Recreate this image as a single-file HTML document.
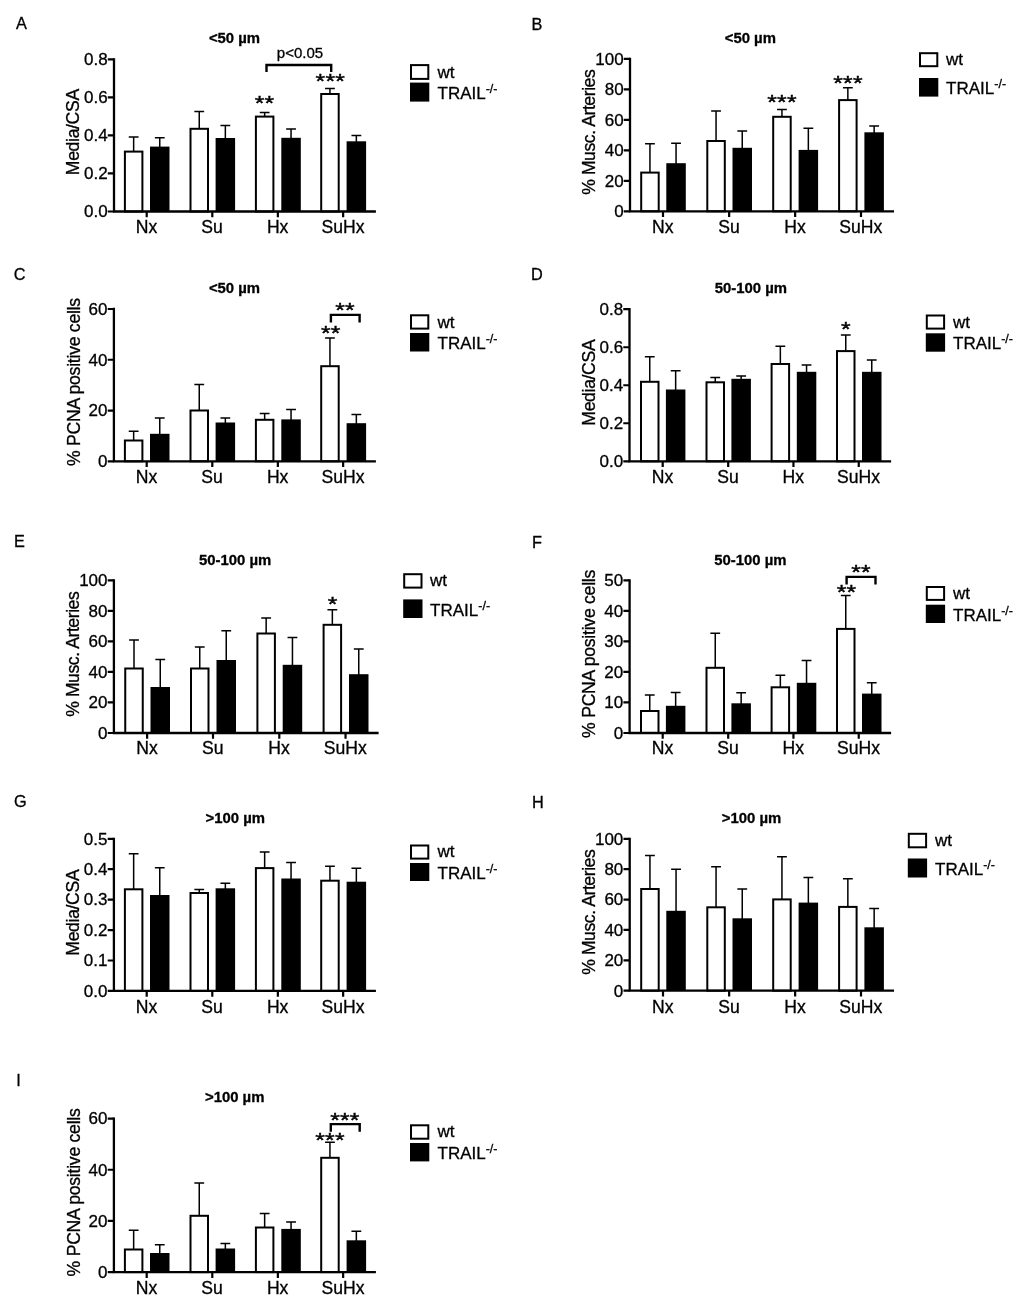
<!DOCTYPE html>
<html lang="en">
<head>
<meta charset="utf-8">
<title>Figure: pulmonary vascular remodelling in wt and TRAIL-/- mice</title>
<style>
html,body{margin:0;padding:0;background:#fff}
svg{display:block}
text{font-family:"Liberation Sans",sans-serif;fill:#000;stroke:#000;stroke-width:.3px}
.pl{font-size:16.3px}
.tt{font-size:14.9px;font-weight:bold;text-anchor:middle}
.yt{font-size:17px;text-anchor:end}
.xt{font-size:17.6px;text-anchor:middle}
.yl{font-size:17.6px;text-anchor:middle}
.lg{font-size:17px}
.sup{font-size:12.5px}
.st{font-size:24.7px;text-anchor:middle;letter-spacing:.2px;stroke-width:.5px}
.pv{text-anchor:middle}
.ax{fill:none;stroke:#000;stroke-width:2.3;stroke-linejoin:miter}
.tk{fill:none;stroke:#000;stroke-width:2.2}
.eb{fill:none;stroke:#000;stroke-width:1.5}
.wb{fill:#fff;stroke:#000;stroke-width:2.0}
.kb{fill:#000;stroke:none}
.br{fill:none;stroke:#000;stroke-width:2.4}
</style>
</head>
<body>
<svg width="1024" height="1301" viewBox="0 0 1024 1301">
<rect x="0" y="0" width="1024" height="1301" fill="#fff"/>
<g>
<text class="pl" x="16.1" y="29.3">A</text>
<text class="tt" x="234.5" y="43">&lt;50 µm</text>
<path class="eb" d="M133.65 151.6V137M128.75 137H138.55"/>
<rect class="wb" x="124.9" y="151.6" width="17.5" height="59.9"/>
<path class="eb" d="M159.75 147.6V137.7M154.85 137.7H164.65"/>
<rect class="kb" x="150" y="146.6" width="19.5" height="64.9"/>
<path class="eb" d="M199.25 128.8V111.4M194.35 111.4H204.15"/>
<rect class="wb" x="190.5" y="128.8" width="17.5" height="82.7"/>
<path class="eb" d="M225.35 139V125.5M220.45 125.5H230.25"/>
<rect class="kb" x="215.6" y="138" width="19.5" height="73.5"/>
<path class="eb" d="M264.65 116.6V112.6M259.75 112.6H269.55"/>
<rect class="wb" x="255.9" y="116.6" width="17.5" height="94.9"/>
<path class="eb" d="M291.05 138.8V129M286.15 129H295.95"/>
<rect class="kb" x="281.3" y="137.8" width="19.5" height="73.7"/>
<path class="eb" d="M329.95 94V88.6M325.05 88.6H334.85"/>
<rect class="wb" x="321.2" y="94" width="17.5" height="117.5"/>
<path class="eb" d="M356.35 142.3V135.5M351.45 135.5H361.25"/>
<rect class="kb" x="346.6" y="141.3" width="19.5" height="70.2"/>
<path class="ax" d="M114 58.25V211.5H375.9"/>
<text class="yt" x="107.6" y="217.35">0.0</text>
<text class="yt" x="107.6" y="179.32">0.2</text>
<text class="yt" x="107.6" y="141.3">0.4</text>
<text class="yt" x="107.6" y="103.28">0.6</text>
<text class="yt" x="107.6" y="65.25">0.8</text>
<text class="xt" x="146.5" y="232.9">Nx</text>
<text class="xt" x="212.1" y="232.9">Su</text>
<text class="xt" x="277.65" y="232.9">Hx</text>
<text class="xt" x="342.95" y="232.9">SuHx</text>
<path class="tk" d="M107.8 211.5H114M107.8 173.47H114M107.8 135.45H114M107.8 97.43H114M107.8 59.4H114M146.7 211.5V217.3M212.3 211.5V217.3M277.85 211.5V217.3M343.15 211.5V217.3"/>
<text class="yl" transform="translate(79.1 132) rotate(-90)" textLength="86.3" lengthAdjust="spacing">Media/CSA</text>
<rect class="wb" x="411" y="65.1" width="17.3" height="13.8"/>
<rect class="kb" x="410" y="82.6" width="19.3" height="19"/>
<text class="lg" x="437.5" y="77.9">wt</text>
<text class="lg" x="437.5" y="98.6">TRAIL<tspan class="sup" dy="-5.9">-/-</tspan></text>
<text class="st" transform="translate(264.6 110.2) scale(1 .85)">**</text>
<text class="st" transform="translate(330.3 88.4) scale(1 .85)">***</text>
<path class="br" d="M266.5 72V65H331.2V72"/>
<text class="pv" x="300" y="58" style="font-size:15px">p&lt;0.05</text>
</g>
<g>
<text class="pl" x="531.5" y="29.5">B</text>
<text class="tt" x="750.3" y="43">&lt;50 µm</text>
<path class="eb" d="M649.95 172.6V143.7M645.05 143.7H654.85"/>
<rect class="wb" x="641.2" y="172.6" width="17.5" height="38.7"/>
<path class="eb" d="M676.05 164.2V143.3M671.15 143.3H680.95"/>
<rect class="kb" x="666.3" y="163.2" width="19.5" height="48.1"/>
<path class="eb" d="M716.05 141V111M711.15 111H720.95"/>
<rect class="wb" x="707.3" y="141" width="17.5" height="70.3"/>
<path class="eb" d="M742.25 148.8V131M737.35 131H747.15"/>
<rect class="kb" x="732.5" y="147.8" width="19.5" height="63.5"/>
<path class="eb" d="M781.95 116.8V109.4M777.05 109.4H786.85"/>
<rect class="wb" x="773.2" y="116.8" width="17.5" height="94.5"/>
<path class="eb" d="M808.35 150.9V128.2M803.45 128.2H813.25"/>
<rect class="kb" x="798.6" y="149.9" width="19.5" height="61.4"/>
<path class="eb" d="M847.85 100.1V87.7M842.95 87.7H852.75"/>
<rect class="wb" x="839.1" y="100.1" width="17.5" height="111.2"/>
<path class="eb" d="M874.15 133.3V125.9M869.25 125.9H879.05"/>
<rect class="kb" x="864.4" y="132.3" width="19.5" height="79"/>
<path class="ax" d="M630 57.75V211.3H894"/>
<text class="yt" x="623.6" y="217.15">0</text>
<text class="yt" x="623.6" y="186.67">20</text>
<text class="yt" x="623.6" y="156.19">40</text>
<text class="yt" x="623.6" y="125.71">60</text>
<text class="yt" x="623.6" y="95.23">80</text>
<text class="yt" x="623.6" y="64.75">100</text>
<text class="xt" x="662.8" y="232.9">Nx</text>
<text class="xt" x="728.95" y="232.9">Su</text>
<text class="xt" x="794.95" y="232.9">Hx</text>
<text class="xt" x="860.8" y="232.9">SuHx</text>
<path class="tk" d="M623.8 211.3H630M623.8 180.82H630M623.8 150.34H630M623.8 119.86H630M623.8 89.38H630M623.8 58.9H630M663 211.3V217.1M729.15 211.3V217.1M795.15 211.3V217.1M861 211.3V217.1"/>
<text class="yl" transform="translate(595.3 132) rotate(-90)" textLength="125.6" lengthAdjust="spacing">% Musc. Arteries</text>
<rect class="wb" x="920" y="53.2" width="17.3" height="13"/>
<rect class="kb" x="919" y="78" width="19.3" height="18.6"/>
<text class="lg" x="946.1" y="64.8">wt</text>
<text class="lg" x="946.1" y="93.9">TRAIL<tspan class="sup" dy="-5.9">-/-</tspan></text>
<text class="st" transform="translate(782 109.4) scale(1 .85)">***</text>
<text class="st" transform="translate(848 89.5) scale(1 .85)">***</text>
</g>
<g>
<text class="pl" x="13.8" y="279.8">C</text>
<text class="tt" x="234.5" y="293">&lt;50 µm</text>
<path class="eb" d="M133.65 440.5V431.3M128.75 431.3H138.55"/>
<rect class="wb" x="124.9" y="440.5" width="17.5" height="20.8"/>
<path class="eb" d="M159.75 434.8V418M154.85 418H164.65"/>
<rect class="kb" x="150" y="433.8" width="19.5" height="27.5"/>
<path class="eb" d="M199.25 410.5V384.5M194.35 384.5H204.15"/>
<rect class="wb" x="190.5" y="410.5" width="17.5" height="50.8"/>
<path class="eb" d="M225.35 423.5V418M220.45 418H230.25"/>
<rect class="kb" x="215.6" y="422.5" width="19.5" height="38.8"/>
<path class="eb" d="M264.65 419.8V413.6M259.75 413.6H269.55"/>
<rect class="wb" x="255.9" y="419.8" width="17.5" height="41.5"/>
<path class="eb" d="M291.05 420.4V409.5M286.15 409.5H295.95"/>
<rect class="kb" x="281.3" y="419.4" width="19.5" height="41.9"/>
<path class="eb" d="M329.95 366.2V338M325.05 338H334.85"/>
<rect class="wb" x="321.2" y="366.2" width="17.5" height="95.1"/>
<path class="eb" d="M356.35 424.2V414.4M351.45 414.4H361.25"/>
<rect class="kb" x="346.6" y="423.2" width="19.5" height="38.1"/>
<path class="ax" d="M113.9 307.85V461.3H375.9"/>
<text class="yt" x="107.5" y="467.15">0</text>
<text class="yt" x="107.5" y="416.38">20</text>
<text class="yt" x="107.5" y="365.62">40</text>
<text class="yt" x="107.5" y="314.85">60</text>
<text class="xt" x="146.5" y="482.9">Nx</text>
<text class="xt" x="212.1" y="482.9">Su</text>
<text class="xt" x="277.65" y="482.9">Hx</text>
<text class="xt" x="342.95" y="482.9">SuHx</text>
<path class="tk" d="M107.7 461.3H113.9M107.7 410.53H113.9M107.7 359.77H113.9M107.7 309H113.9M146.7 461.3V467.1M212.3 461.3V467.1M277.85 461.3V467.1M343.15 461.3V467.1"/>
<text class="yl" transform="translate(79.5 382) rotate(-90)" textLength="168.2" lengthAdjust="spacing">% PCNA positive cells</text>
<rect class="wb" x="411" y="315.3" width="17.3" height="13.3"/>
<rect class="kb" x="410" y="333" width="19.3" height="18.5"/>
<text class="lg" x="437.5" y="327.8">wt</text>
<text class="lg" x="437.5" y="349">TRAIL<tspan class="sup" dy="-5.9">-/-</tspan></text>
<text class="st" transform="translate(345.05 317.3) scale(1 .85)">**</text>
<text class="st" transform="translate(330.8 339.9) scale(1 .85)">**</text>
<path class="br" d="M330.9 322.6V314.85H359.6V322.6"/>
</g>
<g>
<text class="pl" x="530.9" y="279.8">D</text>
<text class="tt" x="750.9" y="293.1">50-100 µm</text>
<path class="eb" d="M649.75 381.8V356.8M644.85 356.8H654.65"/>
<rect class="wb" x="641" y="381.8" width="17.5" height="79.5"/>
<path class="eb" d="M675.65 390.5V370.8M670.75 370.8H680.55"/>
<rect class="kb" x="665.9" y="389.5" width="19.5" height="71.8"/>
<path class="eb" d="M715.25 382.3V377.5M710.35 377.5H720.15"/>
<rect class="wb" x="706.5" y="382.3" width="17.5" height="79"/>
<path class="eb" d="M741.15 379.8V376M736.25 376H746.05"/>
<rect class="kb" x="731.4" y="378.8" width="19.5" height="82.5"/>
<path class="eb" d="M780.35 364V346.2M775.45 346.2H785.25"/>
<rect class="wb" x="771.6" y="364" width="17.5" height="97.3"/>
<path class="eb" d="M806.55 372.8V365.1M801.65 365.1H811.45"/>
<rect class="kb" x="796.8" y="371.8" width="19.5" height="89.5"/>
<path class="eb" d="M845.75 351.1V334.9M840.85 334.9H850.65"/>
<rect class="wb" x="837" y="351.1" width="17.5" height="110.2"/>
<path class="eb" d="M871.75 372.8V360.1M866.85 360.1H876.65"/>
<rect class="kb" x="862" y="371.8" width="19.5" height="89.5"/>
<path class="ax" d="M629.5 308.05V461.3H891.1"/>
<text class="yt" x="623.1" y="467.15">0.0</text>
<text class="yt" x="623.1" y="429.12">0.2</text>
<text class="yt" x="623.1" y="391.1">0.4</text>
<text class="yt" x="623.1" y="353.08">0.6</text>
<text class="yt" x="623.1" y="315.05">0.8</text>
<text class="xt" x="662.5" y="482.9">Nx</text>
<text class="xt" x="728" y="482.9">Su</text>
<text class="xt" x="793.25" y="482.9">Hx</text>
<text class="xt" x="858.55" y="482.9">SuHx</text>
<path class="tk" d="M623.3 461.3H629.5M623.3 423.27H629.5M623.3 385.25H629.5M623.3 347.23H629.5M623.3 309.2H629.5M662.7 461.3V467.1M728.2 461.3V467.1M793.45 461.3V467.1M858.75 461.3V467.1"/>
<text class="yl" transform="translate(595 382.5) rotate(-90)" textLength="86.3" lengthAdjust="spacing">Media/CSA</text>
<rect class="wb" x="926.8" y="315.5" width="17.3" height="13.1"/>
<rect class="kb" x="925.8" y="333.3" width="19.3" height="18.4"/>
<text class="lg" x="953" y="328">wt</text>
<text class="lg" x="953" y="349.2">TRAIL<tspan class="sup" dy="-5.9">-/-</tspan></text>
<text class="st" transform="translate(846 336) scale(1 .85)">*</text>
</g>
<g>
<text class="pl" x="14" y="547.3">E</text>
<text class="tt" x="235.2" y="564.5">50-100 µm</text>
<path class="eb" d="M134 668.5V640M129.1 640H138.9"/>
<rect class="wb" x="125.25" y="668.5" width="17.5" height="64.5"/>
<path class="eb" d="M160.25 688V659.5M155.35 659.5H165.15"/>
<rect class="kb" x="150.5" y="687" width="19.5" height="46"/>
<path class="eb" d="M199.75 668.5V647M194.85 647H204.65"/>
<rect class="wb" x="191" y="668.5" width="17.5" height="64.5"/>
<path class="eb" d="M226.25 661V630.8M221.35 630.8H231.15"/>
<rect class="kb" x="216.5" y="660" width="19.5" height="73"/>
<path class="eb" d="M266.15 633.5V617.9M261.25 617.9H271.05"/>
<rect class="wb" x="257.4" y="633.5" width="17.5" height="99.5"/>
<path class="eb" d="M292.45 665.8V637.5M287.55 637.5H297.35"/>
<rect class="kb" x="282.7" y="664.8" width="19.5" height="68.2"/>
<path class="eb" d="M332.35 624.8V609.7M327.45 609.7H337.25"/>
<rect class="wb" x="323.6" y="624.8" width="17.5" height="108.2"/>
<path class="eb" d="M358.75 675.2V649M353.85 649H363.65"/>
<rect class="kb" x="349" y="674.2" width="19.5" height="58.8"/>
<path class="ax" d="M113.9 579.15V733H378.6"/>
<text class="yt" x="107.5" y="738.85">0</text>
<text class="yt" x="107.5" y="708.31">20</text>
<text class="yt" x="107.5" y="677.77">40</text>
<text class="yt" x="107.5" y="647.23">60</text>
<text class="yt" x="107.5" y="616.69">80</text>
<text class="yt" x="107.5" y="586.15">100</text>
<text class="xt" x="146.93" y="754.4">Nx</text>
<text class="xt" x="212.8" y="754.4">Su</text>
<text class="xt" x="279.1" y="754.4">Hx</text>
<text class="xt" x="345.35" y="754.4">SuHx</text>
<path class="tk" d="M107.7 733H113.9M107.7 702.46H113.9M107.7 671.92H113.9M107.7 641.38H113.9M107.7 610.84H113.9M107.7 580.3H113.9M147.12 733V738.8M213 733V738.8M279.3 733V738.8M345.55 733V738.8"/>
<text class="yl" transform="translate(79.2 654) rotate(-90)" textLength="125.6" lengthAdjust="spacing">% Musc. Arteries</text>
<rect class="wb" x="404.2" y="574.2" width="17.3" height="13.4"/>
<rect class="kb" x="403.2" y="599.4" width="19.3" height="18.6"/>
<text class="lg" x="430.1" y="586.3">wt</text>
<text class="lg" x="430.1" y="615.6">TRAIL<tspan class="sup" dy="-5.9">-/-</tspan></text>
<text class="st" transform="translate(332.6 611.2) scale(1 .85)">*</text>
</g>
<g>
<text class="pl" x="532" y="547.5">F</text>
<text class="tt" x="750.4" y="564.5">50-100 µm</text>
<path class="eb" d="M649.75 711V695M644.85 695H654.65"/>
<rect class="wb" x="641" y="711" width="17.5" height="22"/>
<path class="eb" d="M675.65 706.8V692.5M670.75 692.5H680.55"/>
<rect class="kb" x="665.9" y="705.8" width="19.5" height="27.2"/>
<path class="eb" d="M715.25 667.8V633.3M710.35 633.3H720.15"/>
<rect class="wb" x="706.5" y="667.8" width="17.5" height="65.2"/>
<path class="eb" d="M741.15 704.3V692.8M736.25 692.8H746.05"/>
<rect class="kb" x="731.4" y="703.3" width="19.5" height="29.7"/>
<path class="eb" d="M780.35 687.3V675.3M775.45 675.3H785.25"/>
<rect class="wb" x="771.6" y="687.3" width="17.5" height="45.7"/>
<path class="eb" d="M806.55 683.8V660.6M801.65 660.6H811.45"/>
<rect class="kb" x="796.8" y="682.8" width="19.5" height="50.2"/>
<path class="eb" d="M845.75 628.9V595.4M840.85 595.4H850.65"/>
<rect class="wb" x="837" y="628.9" width="17.5" height="104.1"/>
<path class="eb" d="M871.75 694.6V682.8M866.85 682.8H876.65"/>
<rect class="kb" x="862" y="693.6" width="19.5" height="39.4"/>
<path class="ax" d="M629.6 579.15V733H891.1"/>
<text class="yt" x="623.2" y="738.85">0</text>
<text class="yt" x="623.2" y="708.31">10</text>
<text class="yt" x="623.2" y="677.77">20</text>
<text class="yt" x="623.2" y="647.23">30</text>
<text class="yt" x="623.2" y="616.69">40</text>
<text class="yt" x="623.2" y="586.15">50</text>
<text class="xt" x="662.5" y="754.4">Nx</text>
<text class="xt" x="728" y="754.4">Su</text>
<text class="xt" x="793.25" y="754.4">Hx</text>
<text class="xt" x="858.55" y="754.4">SuHx</text>
<path class="tk" d="M623.4 733H629.6M623.4 702.46H629.6M623.4 671.92H629.6M623.4 641.38H629.6M623.4 610.84H629.6M623.4 580.3H629.6M662.7 733V738.8M728.2 733V738.8M793.45 733V738.8M858.75 733V738.8"/>
<text class="yl" transform="translate(595 653.8) rotate(-90)" textLength="168.2" lengthAdjust="spacing">% PCNA positive cells</text>
<rect class="wb" x="926.8" y="587" width="17.3" height="12.9"/>
<rect class="kb" x="925.8" y="604.7" width="19.3" height="18.3"/>
<text class="lg" x="953" y="599.3">wt</text>
<text class="lg" x="953" y="620.8">TRAIL<tspan class="sup" dy="-5.9">-/-</tspan></text>
<text class="st" transform="translate(860.95 579.4) scale(1 .85)">**</text>
<text class="st" transform="translate(846.6 598.6) scale(1 .85)">**</text>
<path class="br" d="M846.6 584.5V576.9H875.5V584.5"/>
</g>
<g>
<text class="pl" x="14" y="807.1">G</text>
<text class="tt" x="235.3" y="822.5">&gt;100 µm</text>
<path class="eb" d="M133.65 889.3V853.8M128.75 853.8H138.55"/>
<rect class="wb" x="124.9" y="889.3" width="17.5" height="101.6"/>
<path class="eb" d="M159.75 896V867.8M154.85 867.8H164.65"/>
<rect class="kb" x="150" y="895" width="19.5" height="95.9"/>
<path class="eb" d="M199.25 893V889.5M194.35 889.5H204.15"/>
<rect class="wb" x="190.5" y="893" width="17.5" height="97.9"/>
<path class="eb" d="M225.35 889.3V883.3M220.45 883.3H230.25"/>
<rect class="kb" x="215.6" y="888.3" width="19.5" height="102.6"/>
<path class="eb" d="M264.65 868.1V852.1M259.75 852.1H269.55"/>
<rect class="wb" x="255.9" y="868.1" width="17.5" height="122.8"/>
<path class="eb" d="M291.05 879.5V862.4M286.15 862.4H295.95"/>
<rect class="kb" x="281.3" y="878.5" width="19.5" height="112.4"/>
<path class="eb" d="M329.95 880.7V866.2M325.05 866.2H334.85"/>
<rect class="wb" x="321.2" y="880.7" width="17.5" height="110.2"/>
<path class="eb" d="M356.35 882.7V868.2M351.45 868.2H361.25"/>
<rect class="kb" x="346.6" y="881.7" width="19.5" height="109.2"/>
<path class="ax" d="M113.9 837.65V990.9H375.9"/>
<text class="yt" x="107.5" y="996.75">0.0</text>
<text class="yt" x="107.5" y="966.33">0.1</text>
<text class="yt" x="107.5" y="935.91">0.2</text>
<text class="yt" x="107.5" y="905.49">0.3</text>
<text class="yt" x="107.5" y="875.07">0.4</text>
<text class="yt" x="107.5" y="844.65">0.5</text>
<text class="xt" x="146.5" y="1012.6">Nx</text>
<text class="xt" x="212.1" y="1012.6">Su</text>
<text class="xt" x="277.65" y="1012.6">Hx</text>
<text class="xt" x="342.95" y="1012.6">SuHx</text>
<path class="tk" d="M107.7 990.9H113.9M107.7 960.48H113.9M107.7 930.06H113.9M107.7 899.64H113.9M107.7 869.22H113.9M107.7 838.8H113.9M146.7 990.9V996.7M212.3 990.9V996.7M277.85 990.9V996.7M343.15 990.9V996.7"/>
<text class="yl" transform="translate(79.1 912.5) rotate(-90)" textLength="86.3" lengthAdjust="spacing">Media/CSA</text>
<rect class="wb" x="411" y="845.5" width="17.3" height="13.1"/>
<rect class="kb" x="410" y="863" width="19.3" height="18"/>
<text class="lg" x="437.5" y="857.4">wt</text>
<text class="lg" x="437.5" y="878.7">TRAIL<tspan class="sup" dy="-5.9">-/-</tspan></text>
</g>
<g>
<text class="pl" x="532" y="807.5">H</text>
<text class="tt" x="751.5" y="822.5">&gt;100 µm</text>
<path class="eb" d="M649.95 889V855.5M645.05 855.5H654.85"/>
<rect class="wb" x="641.2" y="889" width="17.5" height="101.7"/>
<path class="eb" d="M676.05 911.8V869.3M671.15 869.3H680.95"/>
<rect class="kb" x="666.3" y="910.8" width="19.5" height="79.9"/>
<path class="eb" d="M716.05 907.3V866.8M711.15 866.8H720.95"/>
<rect class="wb" x="707.3" y="907.3" width="17.5" height="83.4"/>
<path class="eb" d="M742.25 919.3V889M737.35 889H747.15"/>
<rect class="kb" x="732.5" y="918.3" width="19.5" height="72.4"/>
<path class="eb" d="M781.95 899.4V856.8M777.05 856.8H786.85"/>
<rect class="wb" x="773.2" y="899.4" width="17.5" height="91.3"/>
<path class="eb" d="M808.35 903.6V877.4M803.45 877.4H813.25"/>
<rect class="kb" x="798.6" y="902.6" width="19.5" height="88.1"/>
<path class="eb" d="M847.85 906.9V878.7M842.95 878.7H852.75"/>
<rect class="wb" x="839.1" y="906.9" width="17.5" height="83.8"/>
<path class="eb" d="M874.15 928.3V908.4M869.25 908.4H879.05"/>
<rect class="kb" x="864.4" y="927.3" width="19.5" height="63.4"/>
<path class="ax" d="M629.7 837.65V990.7H894"/>
<text class="yt" x="623.3" y="996.55">0</text>
<text class="yt" x="623.3" y="966.17">20</text>
<text class="yt" x="623.3" y="935.79">40</text>
<text class="yt" x="623.3" y="905.41">60</text>
<text class="yt" x="623.3" y="875.03">80</text>
<text class="yt" x="623.3" y="844.65">100</text>
<text class="xt" x="662.8" y="1012.6">Nx</text>
<text class="xt" x="728.95" y="1012.6">Su</text>
<text class="xt" x="794.95" y="1012.6">Hx</text>
<text class="xt" x="860.8" y="1012.6">SuHx</text>
<path class="tk" d="M623.5 990.7H629.7M623.5 960.32H629.7M623.5 929.94H629.7M623.5 899.56H629.7M623.5 869.18H629.7M623.5 838.8H629.7M663 990.7V996.5M729.15 990.7V996.5M795.15 990.7V996.5M861 990.7V996.5"/>
<text class="yl" transform="translate(595.4 912) rotate(-90)" textLength="125.6" lengthAdjust="spacing">% Musc. Arteries</text>
<rect class="wb" x="908.8" y="833.8" width="17.3" height="13.5"/>
<rect class="kb" x="907.8" y="858.5" width="19.3" height="19"/>
<text class="lg" x="935" y="846.3">wt</text>
<text class="lg" x="935" y="874.6">TRAIL<tspan class="sup" dy="-5.9">-/-</tspan></text>
</g>
<g>
<text class="pl" x="16.2" y="1086">I</text>
<text class="tt" x="234.7" y="1102.3">&gt;100 µm</text>
<path class="eb" d="M133.65 1249.5V1230.3M128.75 1230.3H138.55"/>
<rect class="wb" x="124.9" y="1249.5" width="17.5" height="22.6"/>
<path class="eb" d="M159.75 1254V1244.8M154.85 1244.8H164.65"/>
<rect class="kb" x="150" y="1253" width="19.5" height="19.1"/>
<path class="eb" d="M199.25 1215.8V1183M194.35 1183H204.15"/>
<rect class="wb" x="190.5" y="1215.8" width="17.5" height="56.3"/>
<path class="eb" d="M225.35 1249.5V1243.5M220.45 1243.5H230.25"/>
<rect class="kb" x="215.6" y="1248.5" width="19.5" height="23.6"/>
<path class="eb" d="M264.65 1227.5V1213.6M259.75 1213.6H269.55"/>
<rect class="wb" x="255.9" y="1227.5" width="17.5" height="44.6"/>
<path class="eb" d="M291.05 1229.9V1222.1M286.15 1222.1H295.95"/>
<rect class="kb" x="281.3" y="1228.9" width="19.5" height="43.2"/>
<path class="eb" d="M329.95 1157.8V1142.2M325.05 1142.2H334.85"/>
<rect class="wb" x="321.2" y="1157.8" width="17.5" height="114.3"/>
<path class="eb" d="M356.35 1241.3V1231.2M351.45 1231.2H361.25"/>
<rect class="kb" x="346.6" y="1240.3" width="19.5" height="31.8"/>
<path class="ax" d="M113.9 1117.45V1272.1H375.9"/>
<text class="yt" x="107.5" y="1277.95">0</text>
<text class="yt" x="107.5" y="1226.78">20</text>
<text class="yt" x="107.5" y="1175.62">40</text>
<text class="yt" x="107.5" y="1124.45">60</text>
<text class="xt" x="146.5" y="1293.8">Nx</text>
<text class="xt" x="212.1" y="1293.8">Su</text>
<text class="xt" x="277.65" y="1293.8">Hx</text>
<text class="xt" x="342.95" y="1293.8">SuHx</text>
<path class="tk" d="M107.7 1272.1H113.9M107.7 1220.93H113.9M107.7 1169.77H113.9M107.7 1118.6H113.9M146.7 1272.1V1277.9M212.3 1272.1V1277.9M277.85 1272.1V1277.9M343.15 1272.1V1277.9"/>
<text class="yl" transform="translate(79.7 1192.3) rotate(-90)" textLength="168.2" lengthAdjust="spacing">% PCNA positive cells</text>
<rect class="wb" x="411" y="1125.3" width="17.3" height="13.4"/>
<rect class="kb" x="410" y="1143" width="19.3" height="18.4"/>
<text class="lg" x="437.5" y="1137.3">wt</text>
<text class="lg" x="437.5" y="1158.6">TRAIL<tspan class="sup" dy="-5.9">-/-</tspan></text>
<text class="st" transform="translate(344.9 1126.5) scale(1 .85)">***</text>
<text class="st" transform="translate(330 1146.5) scale(1 .85)">***</text>
<path class="br" d="M330.8 1131.7V1124.1H359.7V1131.7"/>
</g>
</svg>
</body>
</html>
